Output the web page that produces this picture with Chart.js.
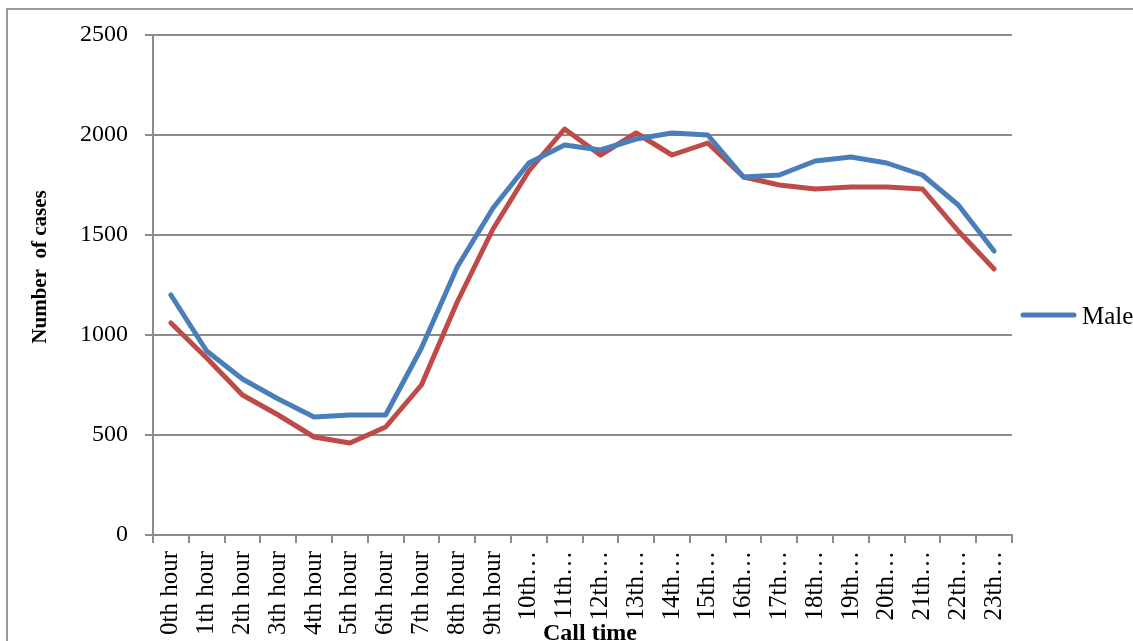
<!DOCTYPE html>
<html>
<head>
<meta charset="utf-8">
<title>Call time</title>
<script src="https://cdn.jsdelivr.net/npm/chart.js@4.4.1/dist/chart.umd.min.js"></script>
<style>
    html, body { margin: 0; padding: 0; background: #fff; }
    #wrap { width: 1133px; height: 641px; overflow: hidden; }
</style>
</head>
<body>
<div id="wrap"><canvas id="callChart" width="1133" height="641"></canvas></div>
<script>
// hour of the call, as printed under the axis
const hours = ['0th hour', '1th hour', '2th hour', '3th hour', '4th hour', '5th hour',
    '6th hour', '7th hour', '8th hour', '9th hour', '10th\u2026', '11th\u2026',
    '12th\u2026', '13th\u2026', '14th\u2026', '15th\u2026', '16th\u2026', '17th\u2026',
    '18th\u2026', '19th\u2026', '20th\u2026', '21th\u2026', '22th\u2026', '23th\u2026'];

const maleCases = [1200, 920, 780, 680, 590, 600, 600, 935, 1340, 1635, 1860, 1950,
    1925, 1980, 2010, 2000, 1790, 1800, 1870, 1890, 1860, 1800, 1650, 1420];
const femaleCases = [1060, 885, 700, 600, 490, 460, 540, 750, 1165, 1530, 1820, 2030,
    1900, 2010, 1900, 1960, 1790, 1750, 1730, 1740, 1740, 1730, 1520, 1330];

const yTicks = [0, 500, 1000, 1500, 2000, 2500];

document.addEventListener("DOMContentLoaded", function () {
    const ctx = document.getElementById('callChart').getContext('2d');
    const gray = '#8c8c8c';
    const serif = "'Liberation Serif', 'Times New Roman', serif";

    // outer frame, axis titles and the single legend entry
    const decorations = {
        id: 'decorations',
        beforeDraw(chart) {
            const c = chart.ctx;
            c.save();
            c.fillStyle = '#fff';
            c.fillRect(0, 0, chart.width, chart.height);
            c.strokeStyle = '#9a9a9a';
            c.lineWidth = 2;
            c.beginPath();
            c.moveTo(7, chart.height);
            c.lineTo(7, 9);
            c.lineTo(chart.width, 9);
            c.stroke();
            c.restore();
        },
        afterDraw(chart) {
            const c = chart.ctx;
            const area = chart.chartArea;
            c.save();
            c.fillStyle = '#000';
            c.font = 'bold 21px ' + serif;
            c.textAlign = 'center';
            c.textBaseline = 'middle';
            c.translate(41, 267);
            c.rotate(-Math.PI / 2);
            c.fillText('Number  of cases', 0, 0);
            c.restore();

            c.save();
            c.fillStyle = '#000';
            c.font = 'bold 24px ' + serif;
            c.textAlign = 'center';
            c.textBaseline = 'alphabetic';
            c.fillText('Call time', 590, 640);
            c.restore();

            const ds = chart.data.datasets[0];
            const ly = 315;
            c.save();
            c.strokeStyle = ds.borderColor;
            c.lineWidth = 5;
            c.lineCap = 'round';
            c.beginPath();
            c.moveTo(area.right + 11, ly);
            c.lineTo(area.right + 62, ly);
            c.stroke();
            c.fillStyle = '#000';
            c.font = '25px ' + serif;
            c.textAlign = 'left';
            c.textBaseline = 'middle';
            c.fillText(ds.label, area.right + 70, ly + 2);
            c.restore();
        }
    };

    new Chart(ctx, {
        type: 'line',
        data: {
            labels: hours,
            datasets: [
                {
                    label: 'Male',
                    data: maleCases,
                    borderColor: '#4a7ebb',
                    borderWidth: 5,
                    pointRadius: 0,
                    tension: 0,
                    borderJoinStyle: 'round',
                    borderCapStyle: 'round'
                },
                {
                    label: 'Female',
                    data: femaleCases,
                    borderColor: '#be4b48',
                    borderWidth: 5,
                    pointRadius: 0,
                    tension: 0,
                    borderJoinStyle: 'round',
                    borderCapStyle: 'round'
                }
            ]
        },
        options: {
            responsive: false,
            animation: false,
            devicePixelRatio: 1,
            layout: { padding: { left: 0, top: 35, right: 121, bottom: 0 } },
            plugins: {
                legend: { display: false },
                tooltip: { enabled: false }
            },
            scales: {
                x: {
                    offset: true,
                    grid: {
                        offset: true,
                        drawOnChartArea: false,
                        color: gray,
                        lineWidth: 2,
                        tickLength: 8
                    },
                    border: { display: true, color: gray, width: 2 },
                    ticks: {
                        autoSkip: false,
                        minRotation: 90,
                        maxRotation: 90,
                        padding: 8,
                        color: '#000',
                        font: { family: serif, size: 25 }
                    },
                    afterFit(scale) { scale.height = 106; }
                },
                y: {
                    min: 0,
                    max: 2500,
                    afterBuildTicks(scale) {
                        scale.ticks = yTicks.map(v => ({ value: v }));
                    },
                    grid: {
                        color: gray,
                        lineWidth: 2,
                        tickLength: 8
                    },
                    border: { display: true, color: gray, width: 2 },
                    ticks: {
                        padding: 17,
                        color: '#000',
                        font: { family: serif, size: 24 },
                        callback: value => String(value)
                    },
                    afterFit(scale) { scale.width = 153; }
                }
            }
        },
        plugins: [decorations]
    });
});
</script>
</body>
</html>
